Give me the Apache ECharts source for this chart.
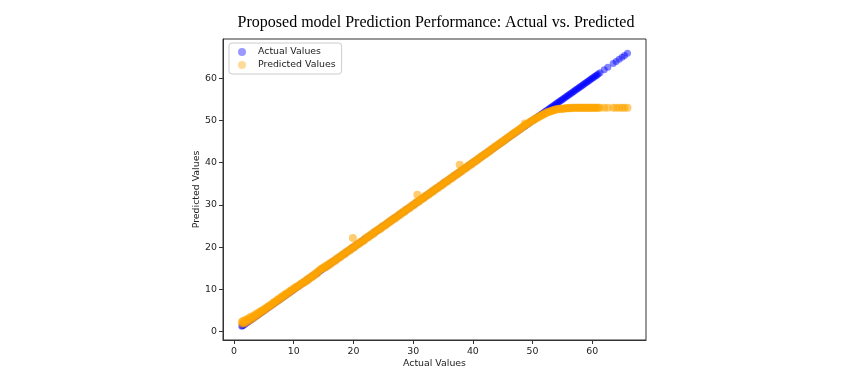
<!DOCTYPE html>
<html><head><meta charset="utf-8">
<script src="https://cdn.jsdelivr.net/npm/echarts@6/dist/echarts.min.js"></script>
<style>html,body{margin:0;padding:0;background:#fff}#c{width:841px;height:379px}</style>
</head><body><div id="c"></div>
<script>
// Actual values (x axis) for each sample, batch 1
const actualValues = [1.3,1.5,1.8,2.1,2.4,2.7,3.0,3.3,3.6,3.9,4.2,4.5,4.8,5.1,5.5,5.8,6.1,6.5,6.8,7.2,7.5,7.9,8.2,8.6,8.9,9.3,9.6,10.0,10.4,10.7,11.1,11.5,11.8,12.2,12.6,13.0,13.3,13.7,14.1,14.5,14.9,15.2,15.6,16.0,16.4,16.8,17.2,17.6,18.0,18.4,18.8,19.2,19.6,19.9,20.0,20.4,20.8,21.2,21.6,22.0,22.4,22.8,23.2,23.6,24.0,24.4,24.8,25.2,25.6,26.0,26.4,26.8,27.2,27.6,28.0,28.4,28.8,29.2,29.6,30.0,30.4,30.7,30.8,31.2,31.6,32.0,32.4,32.8,33.2,33.6,34.0,34.4,34.8,35.2,35.6,36.0,36.4,36.8,37.2,37.6,37.8,38.0,38.4,38.8,39.2,39.6,40.0,40.4,40.8,41.2,41.6,42.0,42.4,42.8,43.2,43.6,44.0,44.4,44.8,45.2,45.6,46.0,46.4,46.8,47.2,47.6,48.0,48.4,48.7,48.8,49.2,49.6,50.0,50.4,50.8,51.2,51.6,52.0,52.4,52.8,53.2,53.6,54.0,54.4,54.8,55.2,55.6,56.0,56.4,56.8,57.2,57.6,58.0,58.4,58.8,59.2,59.6,60.0,60.4,60.8,61.3,62.0,62.6,63.5,64.0,64.5,65.0,65.4,65.9];
// Model predictions for batch 1
const predictedValues = [2.3,2.5,2.7,2.9,3.1,3.4,3.6,3.8,4.1,4.3,4.6,4.9,5.1,5.4,5.8,6.0,6.4,6.8,7.1,7.5,7.8,8.2,8.5,8.9,9.1,9.6,9.8,10.3,10.6,10.8,11.3,11.6,11.9,12.4,12.7,13.1,13.4,13.9,14.3,14.8,15.1,15.5,15.8,16.2,16.5,16.9,17.3,17.7,18.1,18.5,18.9,19.3,19.7,22.2,20.1,20.5,20.9,21.3,21.6,22.1,22.5,22.9,23.3,23.7,24.1,24.5,24.9,25.2,25.7,26.1,26.5,26.9,27.2,27.7,28.1,28.5,28.9,29.2,29.7,30.1,30.5,32.4,30.9,31.3,31.7,32.1,32.5,32.9,33.3,33.7,34.1,34.5,34.9,35.3,35.7,36.1,36.5,36.9,37.3,37.7,39.5,38.1,38.5,38.9,39.3,39.7,40.1,40.5,40.9,41.3,41.7,42.1,42.5,42.9,43.3,43.7,44.1,44.5,44.9,45.3,45.7,46.1,46.5,46.9,47.3,47.7,48.1,48.5,49.3,48.9,49.3,49.7,50.0,50.4,50.7,51.0,51.3,51.6,51.9,52.1,52.3,52.5,52.6,52.7,52.8,52.8,52.9,52.9,52.9,53.0,53.0,53.0,53.0,53.0,53.0,53.0,53.0,53.0,53.0,53.0,53.0,53.0,53.0,53.0,53.0,53.0,53.0,53.0,53.0];
// Actual values, batch 2 (samples lying between those of batch 1)
const actualValues2 = [1.4,1.65,1.95,2.25,2.55,2.85,3.15,3.45,3.75,4.05,4.35,4.65,4.95,5.3,5.65,5.95,6.3,6.65,7.0,7.35,7.7,8.05,8.4,8.75,9.1,9.45,9.8,10.2,10.55,10.9,11.3,11.65,12.0,12.4,12.8,13.15,13.5,13.9,14.3,14.7,15.05,15.4,15.8,16.2,16.6,17.0,17.4,17.8,18.2,18.6,19.0,19.4,19.8,20.2,20.6,21.0,21.4,21.8,22.2,22.6,23.0,23.4,23.8,24.2,24.6,25.0,25.4,25.8,26.2,26.6,27.0,27.4,27.8,28.2,28.6,29.0,29.4,29.8,30.2,30.6,31.0,31.4,31.8,32.2,32.6,33.0,33.4,33.8,34.2,34.6,35.0,35.4,35.8,36.2,36.6,37.0,37.4,37.8,38.2,38.6,39.0,39.4,39.8,40.2,40.6,41.0,41.4,41.8,42.2,42.6,43.0,43.4,43.8,44.2,44.6,45.0,45.4,45.8,46.2,46.6,47.0,47.4,47.8,48.2,48.6,49.0,49.4,49.8,50.2,50.6,51.0,51.4,51.8,52.2,52.6,53.0,53.4,53.8,54.2,54.6,55.0,55.4,55.8,56.2,56.6,57.0,57.4,57.8,58.2,58.6,59.0,59.4,59.8,60.2,60.6,61.0];
// Model predictions for batch 2
const predictedValues2 = [1.9,2.0,2.2,2.4,2.7,2.9,3.2,3.5,3.8,4.1,
  4.4,4.7,5.0,5.3,5.7,6.0,6.3,6.7,7.0,7.4,
  7.7,8.1,8.4,8.8,9.1,9.5,9.8,10.2,10.6,10.9,
  11.3,11.6,11.9,12.2,12.7,13.0,13.4,13.7,14.4,14.9,
  15.1,15.3,15.6,16.0,16.5,16.8,17.3,17.6,18.1,18.4,
  18.9,19.2,19.7,20.0,20.5,20.8,21.3,21.6,22.1,22.4,
  22.9,23.2,23.7,24.1,24.4,24.9,25.2,25.7,26.0,26.5,
  26.8,27.3,27.6,28.1,28.4,28.9,29.2,29.7,30.0,30.5,
  30.8,31.3,31.6,32.1,32.4,32.9,33.2,33.7,34.0,34.5,
  34.8,35.3,35.6,36.1,36.4,36.9,37.2,37.7,38.0,38.5,
  38.8,39.3,39.6,40.1,40.4,40.9,41.3,41.7,42.1,42.5,
  42.9,43.4,43.8,44.2,44.6,45.0,45.4,45.9,46.3,46.7,
  47.1,47.5,47.9,48.3,48.7,49.1,49.4,49.8,50.1,50.5,
  50.8,51.1,51.4,51.7,52.0,52.2,52.4,52.6,52.7,52.8,
  52.8,52.9,52.9,53.0,53.0,53.0,53.0,53.0,53.0,53.0,
  53.0,53.0,53.0,53.0,53.0,53.0];
const xTicks = [0,10,20,30,40,50,60];
const yTicks = [0,10,20,30,40,50,60];

const allActual = actualValues.concat(actualValues2);
const allPred = predictedValues.concat(predictedValues2);
const actualData = allActual.map(v => [v, v]);
const predData = allActual.map((v, i) => [v, allPred[i]]);

const chart = echarts.init(document.getElementById('c'), null, {renderer: 'canvas'});
const FS = 9.4;
const tickFont = {fontFamily: 'DejaVu Sans', fontSize: FS, color: '#222'};
chart.setOption({
  animation: false,
  backgroundColor: '#fff',
  title: {
    text: 'Proposed model Prediction Performance: Actual vs. Predicted',
    left: 431, top: 10, textAlign: 'center',
    textStyle: {fontFamily: 'Liberation Serif', fontSize: 16, fontWeight: 'normal', color: '#000'}
  },
  grid: {left: 223, right: 195, top: 39, bottom: 39, show: true, borderColor: '#333', borderWidth: 1, backgroundColor: 'transparent'},
  legend: {
    left: 229, top: 43, orient: 'vertical', itemGap: 1, itemWidth: 8, itemHeight: 8,
    padding: [3, 6, 3, 9], borderColor: '#ccc', borderWidth: 1, borderRadius: 3,
    backgroundColor: '#fff',
    textStyle: {fontFamily: 'DejaVu Sans', fontSize: FS, color: '#222', lineHeight: 12, padding: [0, 0, 0, 7]},
    data: [
      {name: 'Actual Values', icon: 'circle', itemStyle: {color: 'rgba(0,0,255,0.5)'}},
      {name: 'Predicted Values', icon: 'circle', itemStyle: {color: 'rgba(255,165,0,0.5)'}}
    ]
  },
  xAxis: {
    type: 'value', min: -1.85, max: 69,
    name: 'Actual Values', nameLocation: 'middle', nameGap: 19, nameMoveOverlap: false,
    nameTextStyle: {fontFamily: 'DejaVu Sans', fontSize: FS, color: '#222'},
    axisLine: {show: true, onZero: false, lineStyle: {color: '#333'}},
    axisTick: {show: true, inside: false, length: 4, customValues: xTicks, lineStyle: {color: '#333'}},
    axisLabel: Object.assign({customValues: xTicks, margin: 7}, tickFont),
    splitLine: {show: false}
  },
  yAxis: {
    type: 'value', min: -1.97, max: 69.3,
    name: 'Predicted Values', nameLocation: 'middle', nameGap: 22, nameRotate: 90, nameMoveOverlap: false,
    nameTextStyle: {fontFamily: 'DejaVu Sans', fontSize: FS, color: '#222'},
    axisLine: {show: true, onZero: false, lineStyle: {color: '#333'}},
    axisTick: {show: true, inside: false, length: 4, customValues: yTicks, lineStyle: {color: '#333'}},
    axisLabel: Object.assign({customValues: yTicks, margin: 6}, tickFont),
    splitLine: {show: false}
  },
  series: [
    {name: 'Actual Values', type: 'scatter', data: actualData, symbolSize: 7,
     itemStyle: {color: 'rgba(0,0,255,0.6)'}},
    {name: 'Predicted Values', type: 'scatter', data: predData, symbolSize: 8,
     itemStyle: {color: 'rgba(255,165,0,0.7)'}}
  ]
});
</script></body></html>
